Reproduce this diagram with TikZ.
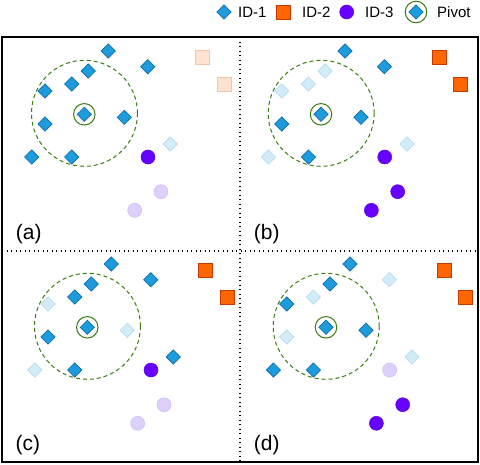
\documentclass[tikz,border=0pt]{standalone}
\usepackage{fontspec}
\setmainfont{Liberation Sans}
\usetikzlibrary{shapes.geometric}
\definecolor{blueA}{HTML}{1E9BDC}
\definecolor{blueB}{HTML}{0F6EA8}
\definecolor{bluefA}{HTML}{D3ECF9}
\definecolor{bluefB}{HTML}{B3DBF1}
\definecolor{orA}{HTML}{FF6600}
\definecolor{orB}{HTML}{C53A00}
\definecolor{orfA}{HTML}{FFE2D0}
\definecolor{orfB}{HTML}{F6C4AA}
\definecolor{puA}{HTML}{6600FF}
\definecolor{puB}{HTML}{5A00E0}
\definecolor{pufA}{HTML}{DDD0FB}
\definecolor{pufB}{HTML}{CDB9F7}
\definecolor{grn}{HTML}{3A7D10}
\tikzset{
  dia/.style={diamond, draw=blueB, fill=blueA, minimum size=14.5pt, inner sep=0pt, line width=0.7pt},
  diaf/.style={dia, draw=bluefB, fill=bluefA},
  sq/.style={rectangle, draw=orB, fill=orA, minimum size=14pt, inner sep=0pt, line width=1pt},
  sqf/.style={sq, draw=orfB, fill=orfA},
  dot/.style={circle, draw=puB, fill=puA, minimum size=14pt, inner sep=0pt, line width=0.5pt},
  dotf/.style={dot, draw=pufB, fill=pufA},
  ring/.style={circle, draw=grn, minimum size=21.5pt, inner sep=0pt, line width=1pt},
  nbhd/.style={circle, draw=grn, minimum size=106pt, inner sep=0pt, line width=1pt, dash pattern=on 4pt off 3pt},
  lbl/.style={anchor=base west, inner sep=0pt, font=\fontsize{21pt}{24pt}\selectfont},
  leg/.style={anchor=base west, inner sep=0pt, font=\fontsize{15pt}{18pt}\selectfont},
  divider/.style={line width=1.3pt, dash pattern=on 1.3pt off 3.2pt},
}
\newcommand\layout[1]{%
  \node[nbhd] (#1nb) at (0.2,-1) {};
  \node[ring] (#1pr) at (0,0) {};
  \node[dia] (#1d0) at (0,0) {};
  \node[s1] (#1d1) at (24,-63.3) {};
  \node[s2] (#1d2) at (63.4,-47.6) {};
  \node[s3] (#1d3) at (4,-43.3) {};
  \node[s4] (#1d4) at (-12.6,-30.3) {};
  \node[s5] (#1d5) at (-39.3,-23.3) {};
  \node[s7] (#1d7) at (-39.3,9.7) {};
  \node[s8] (#1d8) at (40,3) {};
  \node[s9] (#1d9) at (-52.6,42.7) {};
  \node[s10] (#1d10) at (-12.6,42.7) {};
  \node[s11] (#1d11) at (86,29.7) {};
  \node[q1] (#1q1) at (118,-57) {};
  \node[q1] (#1q2) at (139.7,-30.3) {};
  \node[c1] (#1c1) at (63.7,42.7) {};
  \node[c2] (#1c2) at (76.7,77.4) {};
  \node[c3] (#1c3) at (50.4,96) {};
}
\begin{document}
\begin{tikzpicture}[x=1pt,y=-1pt]
\useasboundingbox (0,0) rectangle (480,464);
% legend
\node[dia] (l1) at (224,12) {};
\node[leg] (lt1) at (238,17.3) {ID-1};
\node[sq] (l2) at (283.5,12) {};
\node[leg] (lt2) at (302,17.3) {ID-2};
\node[dot] (l3) at (346.7,12) {};
\node[leg] (lt3) at (365,17.3) {ID-3};
\node[ring] (l4r) at (416,12) {};
\node[dia] (l4) at (416,12) {};
\node[leg] (lt4) at (437,17.3) {Pivot};
% frame and dividers
\draw[line width=1.2pt] (2,37) rectangle (478,462);
\draw[divider] (240,37) -- (240,462);
\draw[divider] (2,251) -- (478,251);
% panel a
\begin{scope}[shift={(84.3,114.3)},
  s1/.style=dia,s2/.style=dia,s3/.style=dia,s4/.style=dia,s5/.style=dia,
  s7/.style=dia,s8/.style=dia,s9/.style=dia,s10/.style=dia,s11/.style=diaf,
  q1/.style=sqf,c1/.style=dot,c2/.style=dotf,c3/.style=dotf]
\layout{a}
\end{scope}
% panel b
\begin{scope}[shift={(321,114.3)},
  s1/.style=dia,s2/.style=dia,s3/.style=diaf,s4/.style=diaf,s5/.style=diaf,
  s7/.style=dia,s8/.style=dia,s9/.style=diaf,s10/.style=dia,s11/.style=diaf,
  q1/.style=sq,c1/.style=dot,c2/.style=dot,c3/.style=dot]
\layout{b}
\end{scope}
% panel c
\begin{scope}[shift={(87.3,327.3)},
  s1/.style=dia,s2/.style=dia,s3/.style=dia,s4/.style=dia,s5/.style=diaf,
  s7/.style=dia,s8/.style=diaf,s9/.style=diaf,s10/.style=dia,s11/.style=dia,
  q1/.style=sq,c1/.style=dot,c2/.style=dotf,c3/.style=dotf]
\layout{c}
\end{scope}
% panel d
\begin{scope}[shift={(326,327.3)},
  s1/.style=dia,s2/.style=diaf,s3/.style=dia,s4/.style=diaf,s5/.style=dia,
  s7/.style=diaf,s8/.style=dia,s9/.style=dia,s10/.style=dia,s11/.style=diaf,
  q1/.style=sq,c1/.style=dotf,c2/.style=dot,c3/.style=dot]
\layout{d}
\end{scope}
% labels
\node[lbl] (la) at (15.7,239) {(a)};
\node[lbl] (lb) at (253.7,239) {(b)};
\node[lbl] (lc) at (15.4,450.6) {(c)};
\node[lbl] (ld) at (253.7,450.6) {(d)};
\end{tikzpicture}
\end{document}
